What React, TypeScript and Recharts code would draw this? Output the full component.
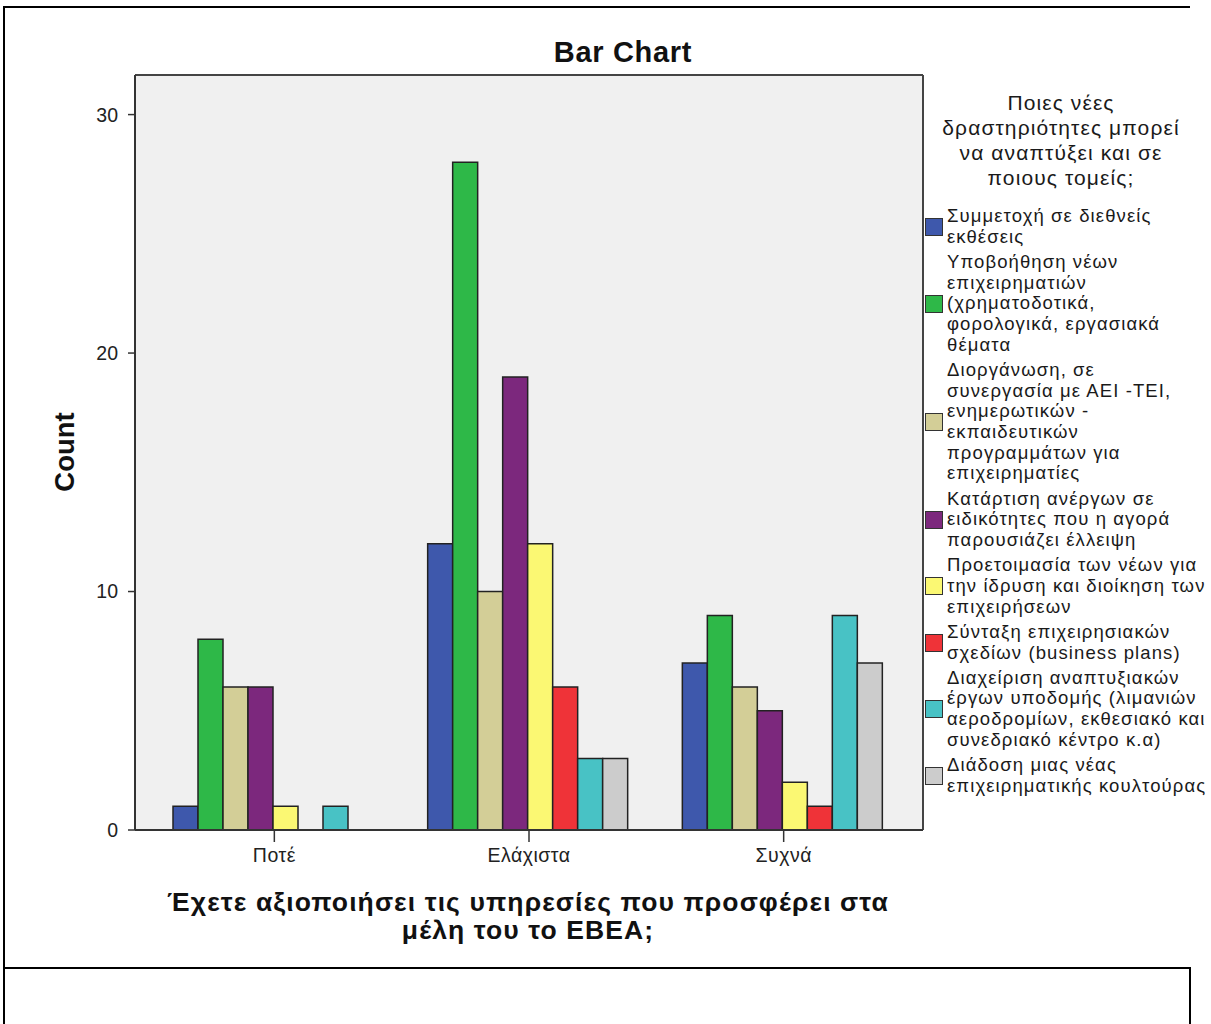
import React from 'react';
import { BarChart, Bar, XAxis, YAxis, CartesianGrid, Legend } from 'recharts';

const categories = ['Ποτέ', 'Ελάχιστα', 'Συχνά'];

const seriesSymmetoxi = [1, 12, 7];
const seriesYpovoithisi = [8, 28, 9];
const seriesDiorganosi = [6, 10, 6];
const seriesKatartisi = [6, 19, 5];
const seriesProetoimasia = [1, 12, 2];
const seriesSyntaxi = [0, 6, 1];
const seriesDiaxeirisi = [1, 3, 9];
const seriesDiadosi = [0, 3, 7];

const seriesValues = [
  seriesSymmetoxi,
  seriesYpovoithisi,
  seriesDiorganosi,
  seriesKatartisi,
  seriesProetoimasia,
  seriesSyntaxi,
  seriesDiaxeirisi,
  seriesDiadosi,
];

const seriesLabelLines = [
  ['Συμμετοχή σε διεθνείς', 'εκθέσεις'],
  ['Υποβοήθηση νέων', 'επιχειρηματιών', '(χρηματοδοτικά,', 'φορολογικά, εργασιακά', 'θέματα'],
  ['Διοργάνωση, σε', 'συνεργασία με ΑΕΙ -ΤΕΙ,', 'ενημερωτικών -', 'εκπαιδευτικών', 'προγραμμάτων για', 'επιχειρηματίες'],
  ['Κατάρτιση ανέργων σε', 'ειδικότητες που η αγορά', 'παρουσιάζει έλλειψη'],
  ['Προετοιμασία των νέων για', 'την ίδρυση και διοίκηση των', 'επιχειρήσεων'],
  ['Σύνταξη επιχειρησιακών', 'σχεδίων (business plans)'],
  ['Διαχείριση αναπτυξιακών', 'έργων υποδομής (λιμανιών', 'αεροδρομίων, εκθεσιακό και', 'συνεδριακό κέντρο κ.α)'],
  ['Διάδοση μιας νέας', 'επιχειρηματικής κουλτούρας'],
];

const seriesColors = ['#3E58AC', '#2EB848', '#D3CE97', '#7C287D', '#FBF873', '#EF3338', '#48C2C5', '#CCCCCC'];

const legendTitleLines = ['Ποιες νέες', 'δραστηριότητες μπορεί', 'να αναπτύξει και σε', 'ποιους τομείς;'];
const chartTitle = 'Bar Chart';
const yAxisTitle = 'Count';
const xAxisTitleLines = ['Έχετε αξιοποιήσει τις υπηρεσίες που προσφέρει στα', 'μέλη του το ΕΒΕΑ;'];
const yTicks = [0, 10, 20, 30];

const data = categories.map((cat, i) => {
  const row: Record<string, string | number> = { cat };
  seriesValues.forEach((vals, k) => {
    row['s' + k] = vals[i];
  });
  return row;
});

const FONT = 'Arial, "Liberation Sans", Helvetica, sans-serif';

const LegendContent = () => (
  <div style={{ fontFamily: FONT, color: '#1a1a1a', width: 320 }}>
    <div style={{ width: 272, textAlign: 'center', fontSize: 21, letterSpacing: 1.1, lineHeight: '25px', marginBottom: 16 }}>
      {legendTitleLines.map((l, i) => (
        <div key={i}>{l}</div>
      ))}
    </div>
    {seriesLabelLines.map((lines, k) => (
      <div key={k} style={{ display: 'flex', alignItems: 'center', marginBottom: 4.5 }}>
        <div
          style={{
            width: 16,
            height: 16,
            background: seriesColors[k],
            border: '1.5px solid #333',
            marginRight: 4,
            flex: 'none',
          }}
        />
        <div style={{ fontSize: 18.5, letterSpacing: 1.1, lineHeight: '20.7px', whiteSpace: 'nowrap' }}>
          {lines.map((l, i) => (
            <div key={i}>{l}</div>
          ))}
        </div>
      </div>
    ))}
  </div>
);

const hBorders = ({ offset }: any) => [offset.top, offset.top + offset.height];
const vBorders = ({ offset }: any) => [offset.left, offset.left + offset.width];

export default function App() {
  return (
    <div style={{ position: 'absolute', left: 0, top: 0, width: 1211, height: 1024, background: '#fff', overflow: 'hidden' }}>
      <div style={{ position: 'absolute', left: 0, top: 0, width: 1205, height: 968, overflow: 'hidden' }}>
        <BarChart
          width={1205}
          height={968}
          data={data}
          margin={{ top: 75, right: 282, bottom: 98, left: 75 }}
          barGap={0}
          barCategoryGap={26}
        >
          <CartesianGrid
            fill="#F0F0F0"
            stroke="#444"
            strokeWidth={2}
            horizontalCoordinatesGenerator={hBorders}
            verticalCoordinatesGenerator={vBorders}
          />
          <XAxis
            dataKey="cat"
            height={40}
            padding={{ left: 12, right: 12 }}
            tickSize={12}
            tickMargin={6}
            tick={{ fill: '#222', fontSize: 19.5, letterSpacing: 0.5, fontFamily: FONT }}
            axisLine={{ stroke: '#333', strokeWidth: 2 }}
            tickLine={{ stroke: '#333', strokeWidth: 1.5 }}
          />
          <YAxis
            width={60}
            domain={[0, 31.66]}
            ticks={yTicks}
            allowDataOverflow
            tickSize={7}
            tickMargin={10}
            tick={{ fill: '#222', fontSize: 19.5, fontFamily: FONT }}
            axisLine={{ stroke: '#333', strokeWidth: 2 }}
            tickLine={{ stroke: '#333', strokeWidth: 1.5 }}
          />
          <Legend
            layout="horizontal"
            verticalAlign="middle"
            align="center"
            content={LegendContent}
            wrapperStyle={{ position: 'absolute', left: 925, top: 90, width: 320, height: 720 }}
          />
          {seriesValues.map((_, k) => (
            <Bar
              key={k}
              dataKey={'s' + k}
              fill={seriesColors[k]}
              stroke="#222"
              strokeWidth={1.5}
              isAnimationActive={false}
            />
          ))}
        </BarChart>
      </div>
      <svg style={{ position: 'absolute', left: 0, top: 0 }} width={1211} height={1024} pointerEvents="none">
        <text x={623} y={52} textAnchor="middle" dominantBaseline="central" fontFamily={FONT} fontWeight="bold" fontSize={29} letterSpacing={0.7} fill="#111">
          {chartTitle}
        </text>
        <text
          x={0}
          y={0}
          transform="translate(64,452) rotate(-90)"
          textAnchor="middle"
          dominantBaseline="central"
          fontFamily={FONT}
          fontWeight="bold"
          fontSize={27.5}
          fill="#111"
        >
          {yAxisTitle}
        </text>
        {xAxisTitleLines.map((l, i) => (
          <text
            key={i}
            x={528}
            y={902 + i * 28}
            textAnchor="middle"
            dominantBaseline="central"
            fontFamily={FONT}
            fontWeight="bold"
            fontSize={26.5}
            letterSpacing={1.1}
            fill="#111"
          >
            {l}
          </text>
        ))}
      </svg>
      <div style={{ position: 'absolute', left: 3, top: 6, width: 1187, height: 2, background: '#000' }} />
      <div style={{ position: 'absolute', left: 3, top: 6, width: 2, height: 1018, background: '#000' }} />
      <div style={{ position: 'absolute', left: 3, top: 967, width: 1188, height: 2, background: '#000' }} />
      <div style={{ position: 'absolute', left: 1189, top: 967, width: 2, height: 57, background: '#000' }} />
    </div>
  );
}
